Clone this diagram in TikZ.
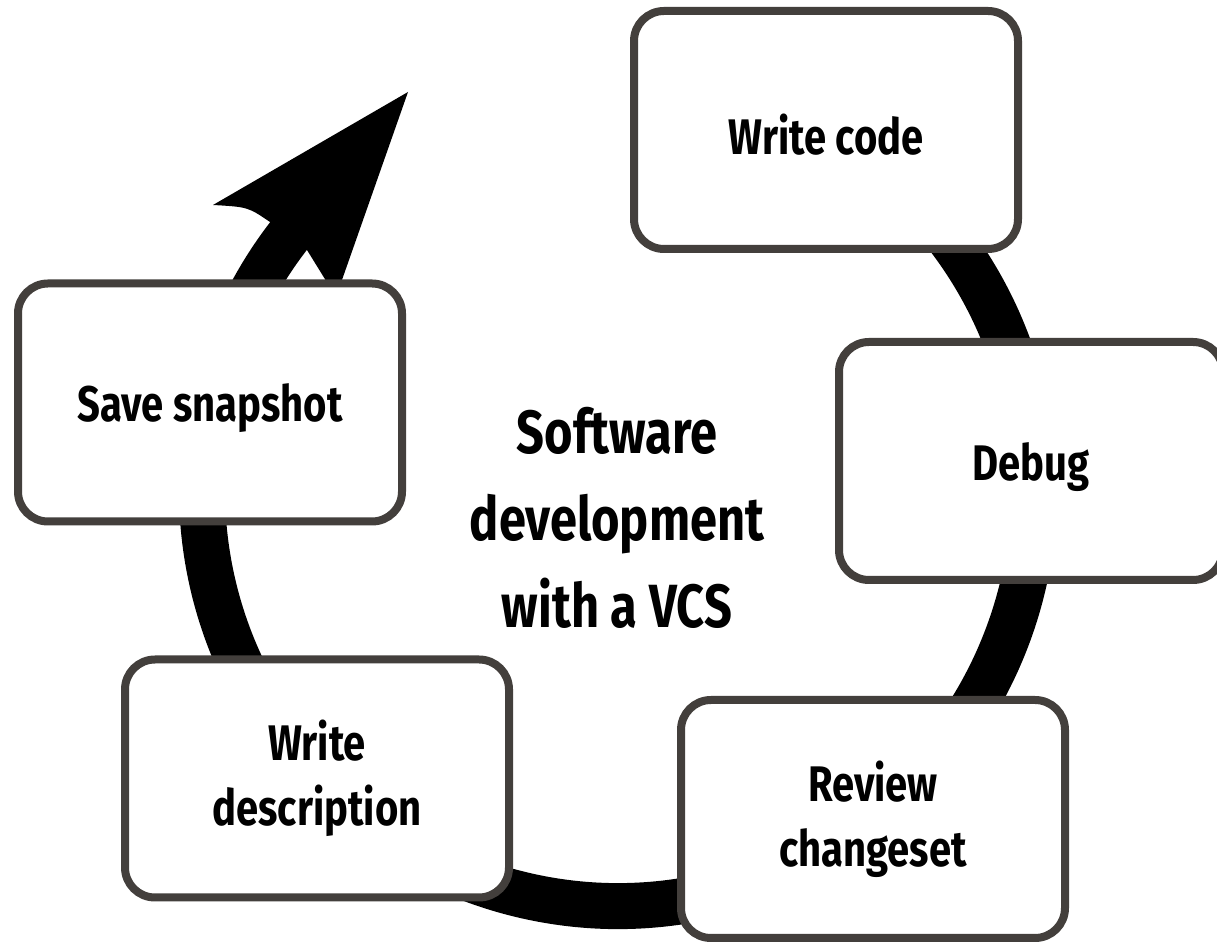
\documentclass[tikz,border=0pt]{standalone}
\usepackage{fontspec}
\setmainfont{Fira Sans}[FakeStretch=0.8]
\definecolor{boxline}{HTML}{433F3C}
\begin{document}
\begin{tikzpicture}[x=1pt,y=1pt,
  stepbox/.style={draw=boxline, line width=8pt, fill=white, rounded corners=30pt,
    minimum width=384pt, minimum height=238pt, inner sep=0pt, align=center,
    font=\fontsize{50}{65}\selectfont\bfseries,
    execute at begin node={\rule{0pt}{50pt}}},
  title/.style={align=center, font=\fontsize{61}{87}\selectfont\bfseries}]
\path[use as bounding box] (0,0) rectangle (1217,944);
\clip (0,0) rectangle (1217,944);
\fill[white] (0,0) rectangle (1217,944);
\coordinate (c) at (618,454);
% cycle band
\draw[line width=46pt, black] ([shift={(70:416pt)}]c) arc[start angle=70, end angle=-220, radius=416pt];
% arrowhead
\coordinate (tip) at (408,852);
\coordinate (lb) at (213,739);
\coordinate (lo) at (270,722);
\coordinate (li) at (307,694);
\coordinate (rb) at (336,647);
\fill[black] (tip) -- (lb) .. controls (248,737) .. (lo) -- (li) -- (rb) -- cycle;
% boxes
\node[stepbox] (code) at (826,814) {Write code};
\node[stepbox] (debug) at (1031,483) {Debug};
\node[stepbox] (review) at (873,125) {Review\\changeset};
\node[stepbox] (desc) at (317,165.5) {Write\\description};
\node[stepbox] (snap) at (210,541.5) {Save snapshot};
\node[title] (t) at (617,426) {Software\\development\\with a VCS};
\end{tikzpicture}
\end{document}
